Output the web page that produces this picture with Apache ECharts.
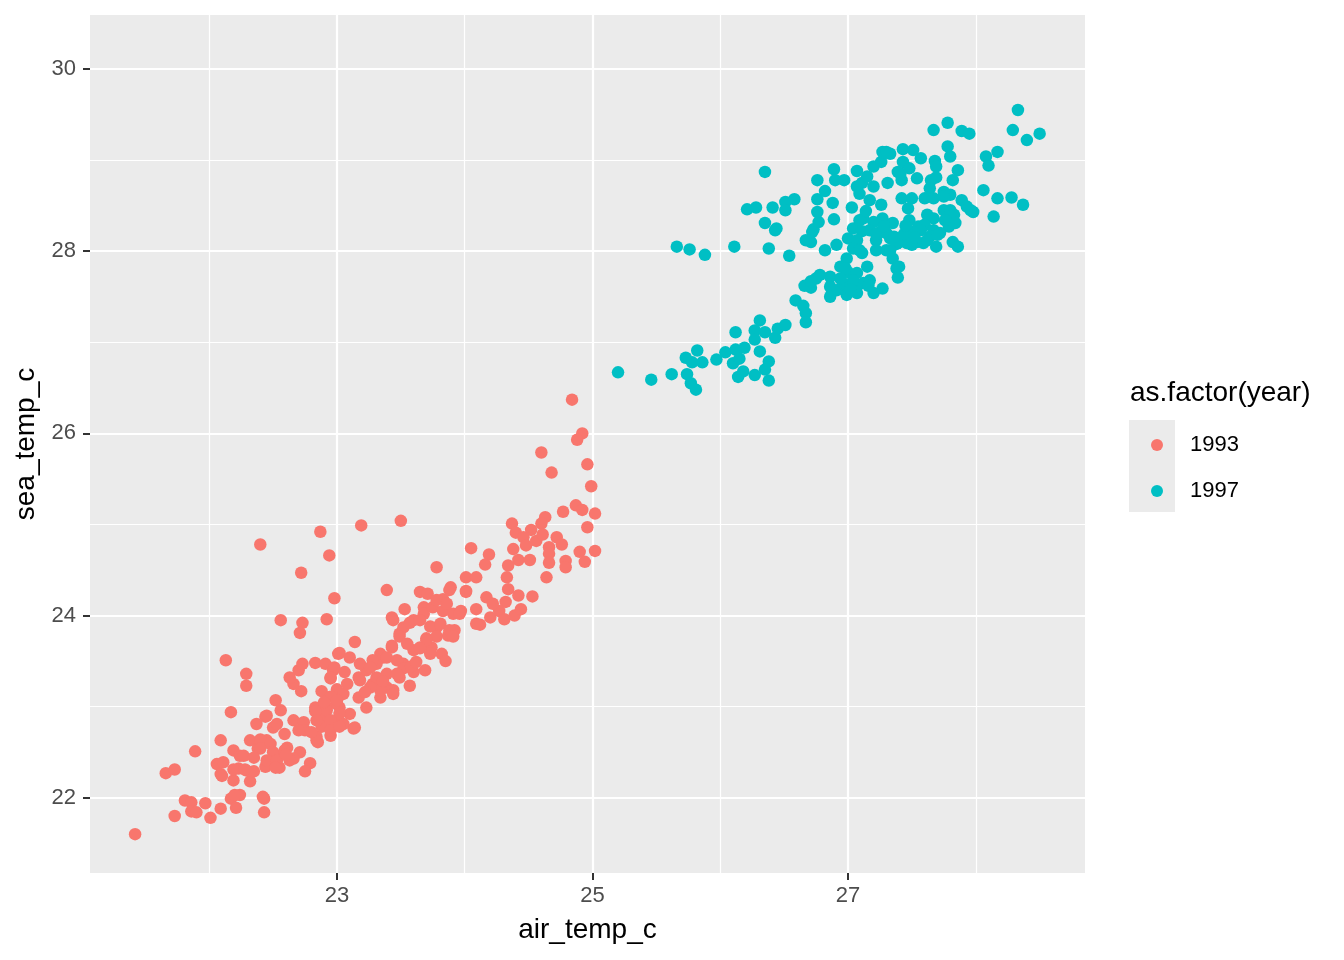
<!DOCTYPE html>
<html>
<head>
<meta charset="utf-8">
<script src="https://cdn.jsdelivr.net/npm/echarts@6/dist/echarts.min.js"></script>
<style>
  html, body { margin: 0; padding: 0; background: #fff; }
  #chart { width: 1344px; height: 960px; }
</style>
</head>
<body>
<div id="chart"></div>
<script>
// 1993 年的观测点 (air_temp_c, sea_temp_c)
const air1993 = [22.13,22.29,22.29,22.17,22.09,21.89,21.66,21.73,21.42,21.73,21.81,21.86,21.86,21.90,21.97,22.01,22.09,22.17,22.21,22.24,
  22.43,22.43,22.06,22.09,22.19,22.32,22.23,22.29,22.35,22.19,22.24,22.32,22.37,22.44,22.52,22.56,22.38,22.45,22.50,22.59,
  22.61,22.53,22.44,22.55,22.71,22.79,22.75,22.66,22.66,22.74,22.75,22.84,22.85,22.95,22.87,22.88,22.72,22.66,22.63,22.70,
  22.73,22.83,22.91,22.97,22.95,23.01,22.89,22.97,22.40,22.87,23.19,23.50,22.94,22.72,22.98,23.39,23.78,22.56,22.73,22.71,
  22.92,23.14,23.02,22.98,23.06,23.17,22.95,23.00,23.05,22.83,22.92,23.02,23.10,23.23,23.17,23.34,23.28,23.39,23.44,23.57,
  23.69,23.60,23.52,23.43,23.36,23.31,23.23,23.49,23.53,23.43,23.65,23.71,23.68,23.60,23.70,23.65,23.74,23.78,23.60,23.13,
  23.00,22.88,24.84,24.92,24.88,24.60,24.68,24.96,24.99,24.87,24.92,25.02,24.77,24.96,25.02,24.90,24.94,24.79,24.79,24.64,
  24.63,24.60,24.52,24.37,24.40,24.46,24.48,24.56,24.61,24.66,24.72,24.76,24.66,24.66,24.38,24.42,24.51,24.34,24.33,24.19,
  24.16,24.05,24.01,24.09,23.89,24.01,24.34,24.42,24.53,24.32,24.17,24.09,24.12,24.20,24.27,24.31,24.39,24.44,24.22,23.83,
  23.44,23.68,23.75,23.83,23.91,23.97,23.92,23.87,23.52,23.78,23.86,23.96,24.09,24.01,23.88,23.49,23.57,23.65,23.73,23.81,
  23.88,23.91,23.78,23.70,23.65,23.73,23.82,23.85,23.55,23.43,23.34,23.10,23.18,23.28,23.39,23.47,23.52,23.31,23.39,23.49,
  23.34,23.26,23.18,23.44,22.95,23.00,22.92,23.02,22.95,23.05,23.14,22.45,22.53,22.70,22.83,22.84,23.00,22.95,22.84,23.02,
  22.40,22.48,22.40,22.50,22.59,22.27,22.35,22.45,22.53,22.63,22.52,22.19,22.28,22.11,22.10,22.20,22.42,
  22.90,23.08,23.22,23.26,23.36,23.47,23.58,23.62,22.80,22.60];
const sea1993 = [23.51,23.36,23.23,22.94,22.63,22.51,22.27,22.31,21.60,21.80,21.97,21.95,21.85,21.84,21.94,21.78,21.88,21.99,21.89,22.03,
  21.99,21.84,22.37,22.26,22.19,22.18,22.32,22.30,22.29,22.52,22.46,22.63,22.81,22.89,23.07,22.96,22.54,22.63,22.77,22.70,
  22.55,22.44,22.34,22.33,22.50,22.38,22.29,22.43,22.85,22.83,22.74,22.67,22.61,22.68,22.99,23.17,23.17,23.25,23.32,23.40,
  23.47,23.48,23.47,23.40,23.31,23.58,22.88,22.81,24.78,24.92,24.99,25.04,24.66,24.47,24.19,24.28,24.53,23.95,23.92,23.81,
  23.96,23.71,23.59,23.43,23.38,23.32,23.32,23.19,23.14,22.99,22.99,22.99,22.92,22.99,23.10,23.10,23.25,23.21,23.18,23.23,
  23.40,23.38,23.47,23.65,23.54,23.47,23.40,23.80,24.07,23.98,24.26,24.24,24.09,23.95,23.75,23.65,23.65,23.87,23.62,22.76,
  22.85,22.78,26.37,26.00,25.93,25.79,25.57,25.66,25.42,25.21,25.16,25.12,25.14,24.97,24.71,24.70,24.59,24.60,24.53,24.42,
  25.08,25.01,24.94,25.01,24.91,24.86,24.77,24.82,24.89,24.75,24.86,24.78,24.68,24.58,24.73,24.61,24.61,24.55,24.42,24.67,
  24.56,24.74,24.42,24.42,24.31,24.27,24.29,24.22,24.21,24.15,24.20,24.07,23.90,23.98,24.05,23.96,24.00,24.07,24.13,24.18,
  23.95,24.02,24.09,24.05,24.02,24.05,23.84,23.78,23.87,24.17,24.13,24.02,23.91,24.26,24.28,23.77,23.92,23.95,23.88,23.91,
  23.84,23.77,23.77,23.73,23.64,23.58,23.58,23.50,23.69,23.67,23.58,23.54,23.47,23.51,23.54,23.51,23.42,23.32,23.36,23.32,
  23.18,23.21,23.29,23.14,23.11,23.03,22.96,22.92,22.85,22.81,22.77,22.90,22.81,22.74,22.95,22.85,23.07,22.74,22.63,22.78,
  22.64,22.59,22.54,22.50,22.52,22.46,22.44,22.41,22.41,22.41,22.33,22.31,22.31,22.39,22.24,22.03,22.01,
  23.05,23.25,23.16,23.43,23.28,23.36,23.44,23.49,22.72,22.47];

// 1997 年的观测点
const air1997 = [25.66,25.76,25.88,26.11,26.38,26.54,26.43,26.67,26.71,26.72,26.66,26.71,26.75,26.59,26.65,26.67,26.67,26.31,26.27,26.27,
  26.35,26.43,26.45,26.51,26.12,25.20,25.46,25.62,25.73,25.82,25.86,25.78,25.74,25.77,25.81,25.97,26.04,26.12,26.19,26.10,
  26.15,26.31,26.38,26.14,26.18,26.27,26.35,26.38,26.35,26.21,26.28,26.41,26.51,26.58,26.51,26.35,26.44,26.73,26.77,26.76,
  26.89,26.88,26.76,26.82,26.76,26.89,26.90,26.97,27.07,27.03,27.07,27.11,27.15,27.20,27.20,27.26,27.27,27.33,27.43,27.51,
  27.43,27.48,27.41,27.31,27.42,27.54,27.17,27.26,27.42,27.50,27.47,27.12,27.20,27.27,27.35,27.48,27.04,27.11,27.17,27.25,
  27.33,27.50,27.00,27.07,27.22,27.38,27.50,26.82,26.91,27.04,27.11,27.22,27.30,26.99,27.35,26.94,27.00,27.15,27.38,27.39,
  26.78,26.71,26.86,26.86,26.91,26.99,26.99,27.07,27.12,27.17,27.20,27.27,26.86,28.33,28.29,28.40,28.50,27.78,27.67,27.89,
  27.95,28.08,28.10,28.17,28.06,28.17,28.28,28.37,28.14,27.78,27.80,27.86,27.82,27.68,27.69,27.57,27.30,27.39,27.65,27.69,
  27.64,27.60,27.67,27.75,27.80,27.89,27.93,27.98,27.75,27.80,27.83,27.84,27.79,27.62,27.67,27.55,27.60,27.67,27.72,27.30,
  27.39,27.46,27.54,27.59,27.69,27.82,27.86,27.64,27.40,27.09,27.75,27.96,27.09,27.22,27.62,27.57,27.44,27.09,27.33,26.98,
  27.07,26.96,27.04,27.07,
  27.14,27.28,27.36,27.45,27.52,27.70,27.76,27.02,27.16,26.94];
const sea1997 = [28.05,28.02,27.96,28.05,28.03,27.95,28.23,28.12,28.10,28.21,27.62,27.60,27.70,27.46,27.40,27.32,27.22,27.24,27.13,27.03,
  27.11,27.05,27.15,27.19,27.11,26.67,26.59,26.65,26.83,26.91,26.78,26.78,26.65,26.55,26.48,26.81,26.89,26.92,26.94,26.77,
  26.82,26.90,26.79,26.62,26.68,26.64,26.70,26.58,28.87,28.46,28.48,28.48,28.54,28.57,28.45,28.31,28.25,28.24,28.32,28.43,
  28.35,28.53,28.57,28.66,28.78,28.90,28.78,28.78,28.88,28.48,28.71,28.75,28.82,28.71,28.93,28.98,29.09,29.07,29.12,29.11,
  28.98,28.91,28.85,28.75,28.78,28.80,28.56,28.51,28.58,28.58,28.47,28.36,28.32,28.36,28.31,28.34,28.25,28.22,28.23,28.21,
  28.14,28.21,28.14,28.12,28.12,28.08,28.07,28.01,28.07,28.03,27.98,28.01,28.01,27.92,27.92,27.83,27.77,27.83,27.81,27.71,
  27.74,27.67,27.72,27.61,27.57,27.61,27.52,27.61,27.65,27.68,27.54,27.59,27.50,29.55,29.33,29.22,29.29,29.41,29.33,29.32,
  29.29,29.04,28.94,29.09,28.67,28.58,28.59,28.51,28.38,29.15,29.04,28.89,28.78,28.99,28.93,29.02,29.09,28.87,28.78,28.81,
  28.69,28.58,28.58,28.65,28.62,28.56,28.49,28.43,28.45,28.45,28.40,28.31,28.27,28.40,28.36,28.27,28.29,28.23,28.20,28.20,
  28.09,28.09,28.10,28.09,28.05,28.10,28.05,28.16,27.83,28.63,28.60,28.45,28.34,28.19,28.12,28.23,28.19,28.01,28.01,27.81,
  27.76,27.65,27.68,27.54,
  28.44,28.27,28.16,28.28,28.15,28.18,28.34,27.58,27.62,27.70];

// 坐标轴刻度
const xTicks = [23, 25, 27];
const xMinor = [22, 24, 26, 28];
const yTicks = [22, 24, 26, 28, 30];
const yMinor = [23, 25, 27, 29];

const FONT = 'Liberation Sans, Arial, Helvetica, sans-serif';
const pairs = (xs, ys) => xs.map((x, i) => [x, ys[i]]);

const gridLines = [
  ...xMinor.map(v => ({ xAxis: v, lineStyle: { width: 1.2 } })),
  ...yMinor.map(v => ({ yAxis: v, lineStyle: { width: 1.2 } })),
  ...xTicks.map(v => ({ xAxis: v, lineStyle: { width: 2.2 } })),
  ...yTicks.map(v => ({ yAxis: v, lineStyle: { width: 2.2 } }))
];

const myChart = echarts.init(document.getElementById('chart'));

const option = {
  animation: false,
  backgroundColor: '#fff',
  textStyle: { fontFamily: FONT },
  grid: {
    left: 90, right: 259, top: 15, bottom: 87,
    show: true, backgroundColor: '#EBEBEB', borderWidth: 0
  },
  title: {
    text: 'as.factor(year)',
    left: 1125, top: 374,
    textStyle: { fontFamily: FONT, fontSize: 28, fontWeight: 'normal', color: '#000' }
  },
  legend: {
    data: ['1993', '1997'],
    orient: 'vertical',
    left: 1146, top: 428,
    icon: 'circle',
    itemWidth: 12, itemHeight: 12,
    itemGap: 22,
    textStyle: { fontFamily: FONT, fontSize: 22, color: '#000', lineHeight: 24, padding: [0, 0, 0, 22] },
    selectedMode: false
  },
  graphic: [{
    type: 'rect', z: -1,
    shape: { x: 1129, y: 420, width: 46, height: 92 },
    style: { fill: '#EBEBEB' }
  }],
  xAxis: {
    type: 'value',
    min: 21.067, max: 28.855,
    name: 'air_temp_c',
    nameLocation: 'middle', nameGap: 43,
    nameTextStyle: { fontFamily: FONT, fontSize: 28, color: '#000' },
    axisLine: { show: false },
    axisTick: { show: true, length: 7, customValues: xTicks, lineStyle: { color: '#333', width: 2 } },
    axisLabel: { customValues: xTicks, margin: 12, fontSize: 22, color: '#4D4D4D', fontFamily: FONT },
    splitLine: { show: false }
  },
  yAxis: {
    type: 'value',
    min: 21.174, max: 30.593,
    name: 'sea_temp_c',
    nameLocation: 'middle', nameGap: 45,
    nameTextStyle: { fontFamily: FONT, fontSize: 28, color: '#000' },
    axisLine: { show: false },
    axisTick: { show: true, length: 7, customValues: yTicks, lineStyle: { color: '#333', width: 2 } },
    axisLabel: { customValues: yTicks, margin: 14, fontSize: 22, color: '#4D4D4D', fontFamily: FONT },
    splitLine: { show: false }
  },
  series: [
    {
      name: 'grid', type: 'line', data: [], z: 1, silent: true,
      markLine: {
        z: 1,
        silent: true, symbol: ['none', 'none'], label: { show: false },
        lineStyle: { color: '#fff', type: 'solid' },
        emphasis: { disabled: true },
        animation: false,
        data: gridLines
      }
    },
    {
      name: '1993', type: 'scatter', z: 3,
      symbolSize: 12.5,
      itemStyle: { color: '#F8766D', opacity: 1 },
      data: pairs(air1993, sea1993)
    },
    {
      name: '1997', type: 'scatter', z: 3,
      symbolSize: 12.5,
      itemStyle: { color: '#00BFC4', opacity: 1 },
      data: pairs(air1997, sea1997)
    }
  ]
};

myChart.setOption(option);
</script>
</body>
</html>
